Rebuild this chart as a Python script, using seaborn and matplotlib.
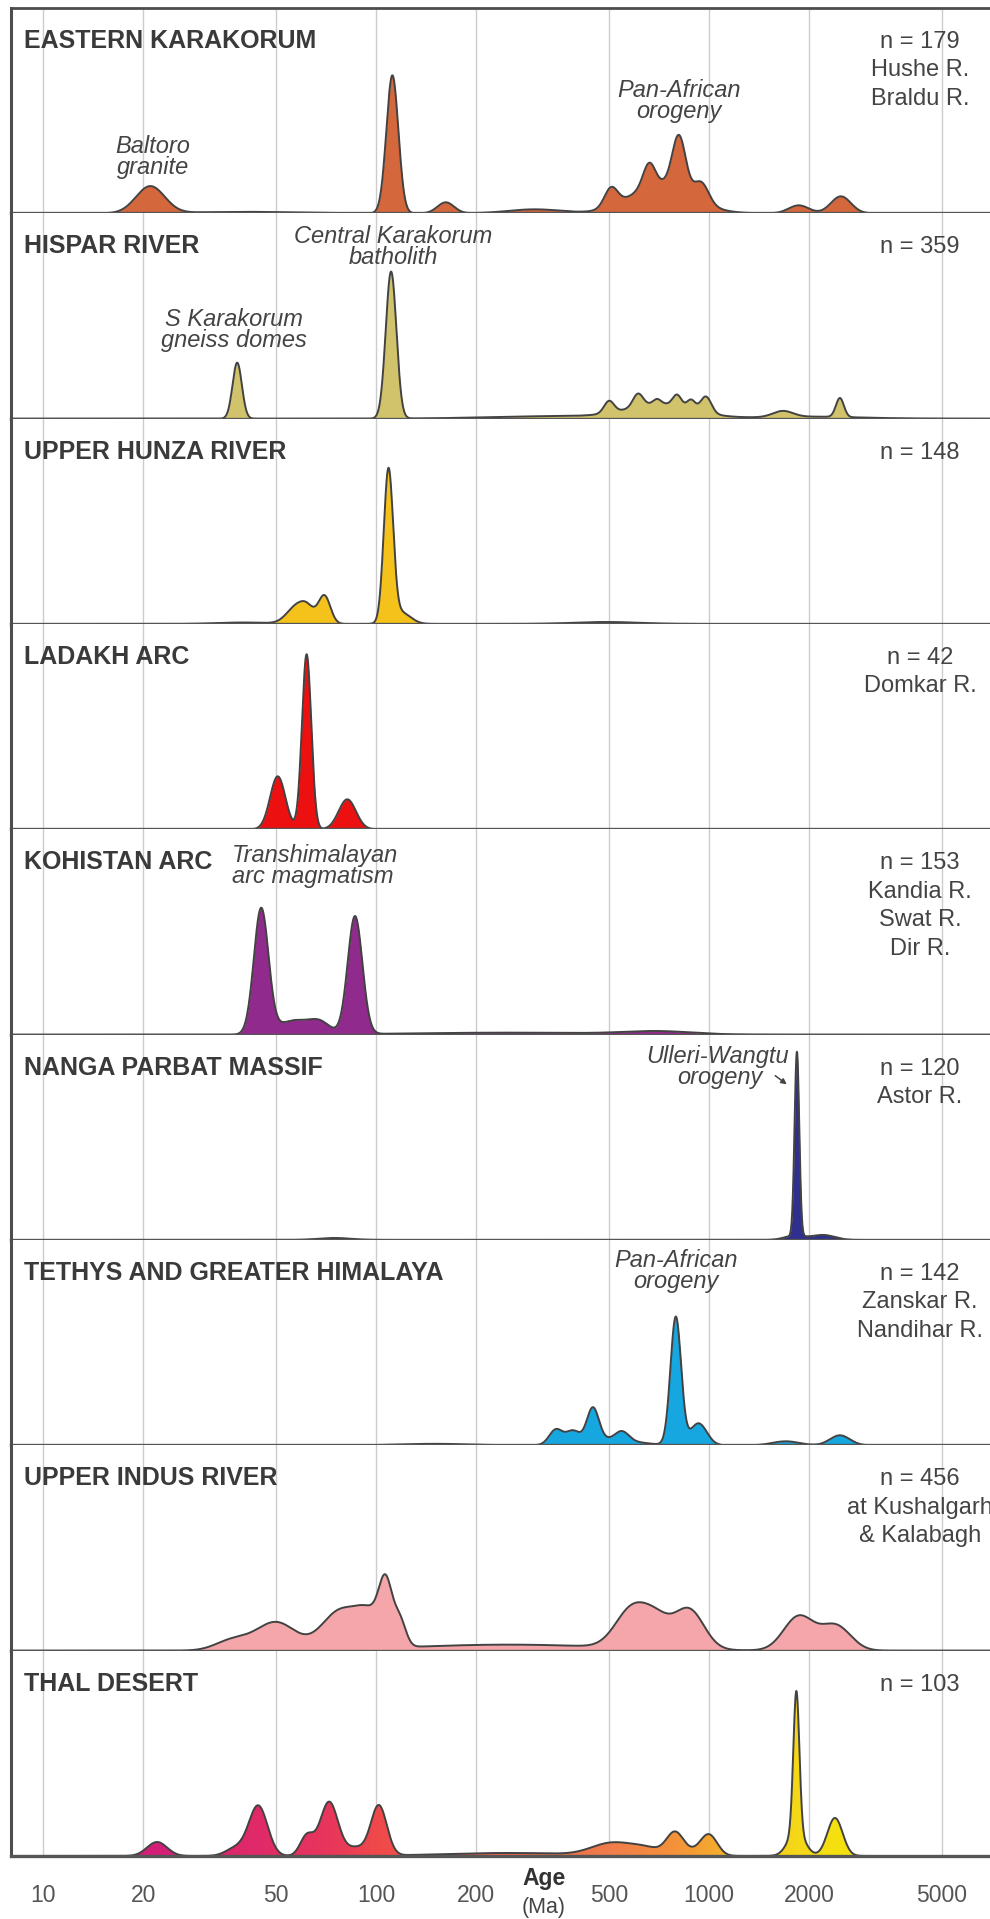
import numpy as np
import matplotlib
matplotlib.use("Agg")
import matplotlib.pyplot as plt
from matplotlib.colors import LinearSegmentedColormap
from matplotlib.ticker import NullLocator, FixedLocator, FixedFormatter
import seaborn as sns

# ---------------- data ----------------
PANEL_TITLES = ["EASTERN KARAKORUM", "HISPAR RIVER", "UPPER HUNZA RIVER", "LADAKH ARC",
                "KOHISTAN ARC", "NANGA PARBAT MASSIF", "TETHYS AND GREATER HIMALAYA",
                "UPPER INDUS RIVER", "THAL DESERT"]
PANEL_NOTES = [["n = 179", "Hushe R.", "Braldu R."],
               ["n = 359"],
               ["n = 148"],
               ["n = 42", "Domkar R."],
               ["n = 153", "Kandia R.", "Swat R.", "Dir R."],
               ["n = 120", "Astor R."],
               ["n = 142", "Zanskar R.", "Nandihar R."],
               ["n = 456", "at Kushalgarh", "& Kalabagh"],
               ["n = 103"]]
PANEL_COLORS = ["#d4673c", "#d1c36b", "#f5c21b", "#ec1010", "#902a8c",
                "#2f2f8f", "#16a6e0", "#f4a6aa", None]
TICK_AGES = [10, 20, 50, 100, 200, 500, 1000, 2000, 5000]
TICK_LABELS = ["10", "20", "50", "100", "200", "500", "1000", "2000", "5000"]

# density peak components: age (Ma), height (rel. density), width (log10 Ma)
EK_AGE = [21, 112, 162, 300, 720, 508, 661, 813, 950, 1860, 2490, 40]
EK_H = [27, 138, 11, 4, 30, 19, 23, 53, 19, 8, 17, 1.5]
EK_W = [0.043, 0.018, 0.025, 0.08, 0.09, 0.02, 0.018, 0.02, 0.022, 0.03, 0.03, 0.15]

HR_AGE = [38.3, 111, 720, 501, 612, 698, 802, 884, 980, 1667, 2473, 350, 2000]
HR_H = [56, 147, 14, 12, 13, 5, 11, 9, 16, 6, 19, 2.5, 2]
HR_W = [0.014, 0.016, 0.1, 0.015, 0.015, 0.012, 0.013, 0.012, 0.016, 0.03, 0.012, 0.2, 0.15]

UH_AGE = [58, 62.5, 70, 109, 118, 490, 40]
UH_H = [18, 10, 28, 150, 12, 2, 1.5]
UH_W = [0.03, 0.02, 0.018, 0.014, 0.03, 0.1, 0.08]

LA_AGE = [50.7, 61.9, 82]
LA_H = [53, 175, 30]
LA_W = [0.023, 0.014, 0.026]

KO_AGE = [45.2, 57, 68, 86.5, 250, 700]
KO_H = [125, 14, 10, 118, 2, 3]
KO_W = [0.022, 0.05, 0.03, 0.022, 0.3, 0.1]

NP_AGE = [1837, 1800, 2200, 75]
NP_H = [184, 4, 5, 2]
NP_W = [0.007, 0.03, 0.035, 0.05]

TH_AGE = [347, 390, 448, 548, 500, 795, 930, 1700, 2473, 150]
TH_H = [15, 12, 33, 9, 6, 128, 22, 4, 10, 1.5]
TH_W = [0.02, 0.02, 0.018, 0.02, 0.08, 0.016, 0.025, 0.04, 0.03, 0.1]

UI_AGE = [37, 50, 78, 96, 107, 118, 250, 590, 700, 870, 1860, 2400]
UI_H = [10, 28, 38, 30, 55, 25, 6, 40, 22, 40, 34, 25]
UI_W = [0.05, 0.06, 0.055, 0.04, 0.02, 0.018, 0.3, 0.05, 0.04, 0.045, 0.045, 0.045]

TD_AGE = [22, 38, 44.3, 62, 72.3, 87, 102, 250, 510, 650, 790, 890, 1000, 1830, 1830, 2390]
TD_H = [14, 8, 50, 20, 54, 8, 50, 3, 12, 7, 21, 4, 20, 140, 25, 38]
TD_W = [0.03, 0.03, 0.028, 0.02, 0.027, 0.03, 0.024, 0.2, 0.06, 0.05, 0.025, 0.04, 0.025,
        0.009, 0.025, 0.023]

# colour ramp of the Thal Desert panel: (age Ma, colour)
TD_RAMP_AGE = [8, 22, 44, 72, 102, 500, 790, 1000, 1600, 2400, 7000]
TD_RAMP_COL = ["#d01a80", "#d41f78", "#e02a68", "#e8365c", "#ef4a4a", "#f07c4c",
               "#f4923a", "#f5a530", "#f4d21c", "#f5e010", "#f5e010"]

PANELS = [(EK_AGE, EK_H, EK_W), (HR_AGE, HR_H, HR_W), (UH_AGE, UH_H, UH_W),
          (LA_AGE, LA_H, LA_W), (KO_AGE, KO_H, KO_W), (NP_AGE, NP_H, NP_W),
          (TH_AGE, TH_H, TH_W), (UI_AGE, UI_H, UI_W), (TD_AGE, TD_H, TD_W)]

# ---------------- layout ----------------
W, H = 990, 1919
X_MIN, X_MAX = 8.015, 6982.0
PANEL_TOP = 8.0
PANEL_H = 205.33
LEFT = 11.0

sns.set_style("white")
plt.rcParams['font.family'] = ['Liberation Sans', 'DejaVu Sans']

fig = plt.figure(figsize=(W / 100, H / 100), dpi=100)


def fp(x, y):
    return (x / W, 1 - y / H)


logx = np.linspace(np.log10(X_MIN), np.log10(X_MAX), 5000)
xs = 10 ** logx


def density(ages, heights, widths):
    y = np.zeros_like(logx)
    for a, h, w in zip(ages, heights, widths):
        y += h * np.exp(-0.5 * ((logx - np.log10(a)) / w) ** 2)
    return y


TEXT_DARK = "#3a3a3a"
LINE_COL = "#424242"

ramp_pos = (np.log10(TD_RAMP_AGE) - np.log10(X_MIN)) / (np.log10(X_MAX) - np.log10(X_MIN))
ramp_pos = np.clip(ramp_pos, 0, 1)
ramp_pos[0], ramp_pos[-1] = 0.0, 1.0
THAL_CMAP = LinearSegmentedColormap.from_list("thal", list(zip(ramp_pos, TD_RAMP_COL)))

axes = []
for i, (ages, hts, wds) in enumerate(PANELS):
    top = PANEL_TOP + i * PANEL_H
    bottom = top + PANEL_H
    ax = fig.add_axes([LEFT / W, 1 - bottom / H, (W - LEFT) / W, PANEL_H / H])
    axes.append(ax)
    ax.set_xscale("log")
    ax.set_xlim(X_MIN, X_MAX)
    ax.set_ylim(0, PANEL_H)
    ax.set_facecolor("white")
    ax.xaxis.set_major_locator(FixedLocator(TICK_AGES))
    ax.xaxis.set_minor_locator(NullLocator())
    ax.set_yticks([])
    ax.grid(axis="x", color="#cccccc", lw=1.0)
    ax.set_axisbelow(True)
    ax.spines["right"].set_visible(False)
    ax.spines["top"].set_visible(i == 0)
    ax.spines["top"].set_color("#4d4d4d")
    ax.spines["top"].set_linewidth(2.0)
    ax.spines["left"].set_color("#4d4d4d")
    ax.spines["left"].set_linewidth(2.2)
    ax.spines["bottom"].set_color("#555555")
    ax.spines["bottom"].set_linewidth(2.4)
    ax.spines["bottom"].set_zorder(5)

    y = density(ages, hts, wds)
    col = PANEL_COLORS[i]
    if col is not None:
        ax.fill_between(xs, 0, y, color=col, lw=0, zorder=2)
    else:
        poly = ax.fill_between(xs, 0, y, color="none", lw=0, zorder=2)
        grad = np.linspace(0, 1, 1000)[None, :]
        im = ax.imshow(grad, cmap=THAL_CMAP, aspect="auto", extent=(0, 1, 0, 1),
                       transform=ax.transAxes, zorder=2, interpolation="bilinear")
        im.set_clip_path(poly.get_paths()[0], transform=ax.transData)
        ax.set_xlim(X_MIN, X_MAX)
        ax.set_ylim(0, PANEL_H)
    sns.lineplot(x=xs, y=y, ax=ax, color=LINE_COL, lw=1.4, zorder=3, sort=False,
                 estimator=None)
    ax.set_xlabel("")
    ax.set_ylabel("")

    if i < len(PANELS) - 1:
        ax.tick_params(axis="x", length=0, labelbottom=False)
    else:
        ax.xaxis.set_major_formatter(FixedFormatter(TICK_LABELS))
        ax.tick_params(axis="x", length=9, width=1, color="#bbbbbb", pad=11,
                       labelsize=16.5, labelcolor="#555555", direction="out")

    # panel title
    fig.text(*fp(24, top + 40), PANEL_TITLES[i], fontsize=18, fontweight="bold",
             color=TEXT_DARK, ha="left", va="baseline")
    for j, line in enumerate(PANEL_NOTES[i]):
        fig.text(*fp(920, top + 40 + 28.5 * j), line, fontsize=17, color="#444444",
                 ha="center", va="baseline")

# axis label
fig.text(*fp(544, 1878), "Age", fontsize=16.5, fontweight="semibold", color="#333333",
         ha="center", va="center")
fig.text(*fp(544, 1907), "(Ma)", fontsize=15.5, color="#444444", ha="center", va="center")

# annotations
ANN_KW = dict(fontsize=17, fontstyle="italic", color="#444444", linespacing=0.9)
fig.text(*fp(153, 157), "Baltoro\ngranite", ha="center", va="center", **ANN_KW)
fig.text(*fp(679, 101), "Pan-African\norogeny", ha="center", va="center", **ANN_KW)
fig.text(*fp(393, 247), "Central Karakorum\nbatholith", ha="center", va="center", **ANN_KW)
fig.text(*fp(234, 330), "S Karakorum\ngneiss domes", ha="center", va="center", **ANN_KW)
fig.text(*fp(232, 866), "Transhimalayan\narc magmatism", ha="left", va="center", **ANN_KW)
fig.text(*fp(789, 1057), "Ulleri-Wangtu", ha="right", va="center", **ANN_KW)
fig.text(*fp(763, 1077), "orogeny", ha="right", va="center", **ANN_KW)
fig.text(*fp(676, 1271), "Pan-African\norogeny", ha="center", va="center", **ANN_KW)
axes[5].annotate("", xy=fp(789, 1086), xytext=fp(773, 1074), xycoords="figure fraction",
                 textcoords="figure fraction",
                 arrowprops=dict(arrowstyle="-|>", color="#444444", lw=1.1,
                                 mutation_scale=8))

fig.savefig("out.png", dpi=100, facecolor="white")
